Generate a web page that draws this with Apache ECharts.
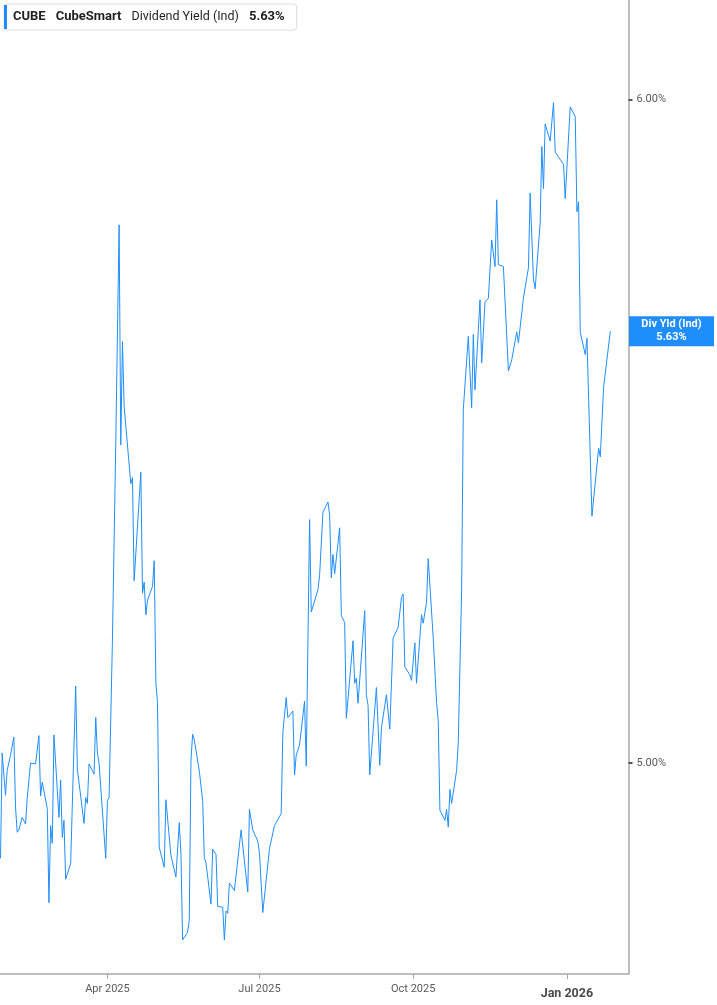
<!DOCTYPE html>
<html>
<head>
<meta charset="utf-8">
<script src="https://cdn.jsdelivr.net/npm/echarts@6/dist/echarts.min.js"></script>
<style>
html,body{margin:0;padding:0;background:#fff;overflow:hidden;width:100%;height:100%;}
#chart{width:100%;height:100%;}
</style>
</head>
<body>
<div id="chart"></div>
<script>
const ticker = 'CUBE';
const company = 'CubeSmart';
const metric = 'Dividend Yield (Ind)';
const badgeName = 'Div Yld (Ind)';
const lastValue = 5.63;
const yTickValues = [5, 6];
const xTickDates = ['2025-04-01', '2025-07-01', '2025-10-01', '2026-01-01'];
const monthNames = ['Jan','Feb','Mar','Apr','May','Jun','Jul','Aug','Sep','Oct','Nov','Dec'];

const dates = [
'2025-01-27','2025-01-28','2025-01-30','2025-01-31','2025-02-02','2025-02-04','2025-02-05','2025-02-06','2025-02-07','2025-02-09',
'2025-02-11','2025-02-12','2025-02-13','2025-02-14','2025-02-17','2025-02-19','2025-02-20','2025-02-21','2025-02-24','2025-02-25',
'2025-02-26','2025-02-27','2025-02-28','2025-03-03','2025-03-04','2025-03-05','2025-03-06','2025-03-07','2025-03-10','2025-03-13',
'2025-03-14','2025-03-18','2025-03-19','2025-03-20','2025-03-21','2025-03-24','2025-03-25','2025-03-26','2025-03-27','2025-03-31',
'2025-04-01','2025-04-02','2025-04-04','2025-04-06','2025-04-08','2025-04-09','2025-04-10','2025-04-11','2025-04-15','2025-04-16',
'2025-04-17','2025-04-21','2025-04-22','2025-04-23','2025-04-24','2025-04-25','2025-04-28','2025-04-29','2025-04-30','2025-05-01',
'2025-05-02','2025-05-05','2025-05-06','2025-05-09','2025-05-12','2025-05-14','2025-05-15','2025-05-16','2025-05-19','2025-05-20',
'2025-05-21','2025-05-22','2025-05-23','2025-05-26','2025-05-28','2025-05-29','2025-05-30','2025-06-02','2025-06-03','2025-06-05',
'2025-06-06','2025-06-09','2025-06-10','2025-06-11','2025-06-12','2025-06-13','2025-06-16','2025-06-20','2025-06-24','2025-06-25',
'2025-06-27','2025-06-30','2025-07-01','2025-07-03','2025-07-07','2025-07-08','2025-07-10','2025-07-11','2025-07-14','2025-07-15',
'2025-07-16','2025-07-17','2025-07-18','2025-07-21','2025-07-22','2025-07-23','2025-07-25','2025-07-28','2025-07-29','2025-07-31',
'2025-08-01','2025-08-05','2025-08-06','2025-08-07','2025-08-08','2025-08-11','2025-08-12','2025-08-13','2025-08-14','2025-08-15',
'2025-08-18','2025-08-19','2025-08-20','2025-08-21','2025-08-22','2025-08-26','2025-08-27','2025-08-28','2025-08-29','2025-09-02',
'2025-09-03','2025-09-04','2025-09-05','2025-09-09','2025-09-10','2025-09-11','2025-09-12','2025-09-15','2025-09-17','2025-09-19',
'2025-09-22','2025-09-23','2025-09-24','2025-09-25','2025-09-26','2025-09-29','2025-09-30','2025-10-02','2025-10-03','2025-10-06',
'2025-10-07','2025-10-09','2025-10-10','2025-10-13','2025-10-15','2025-10-16','2025-10-17','2025-10-20','2025-10-21','2025-10-22',
'2025-10-23','2025-10-24','2025-10-27','2025-10-28','2025-10-30','2025-10-31','2025-11-03','2025-11-05','2025-11-06','2025-11-07',
'2025-11-10','2025-11-11','2025-11-13','2025-11-15','2025-11-17','2025-11-19','2025-11-20','2025-11-21','2025-11-24','2025-11-27',
'2025-11-29','2025-12-02','2025-12-03','2025-12-06','2025-12-09','2025-12-10','2025-12-12','2025-12-13','2025-12-16','2025-12-17',
'2025-12-18','2025-12-19','2025-12-22','2025-12-24','2025-12-25','2025-12-30','2025-12-31','2026-01-03','2026-01-06','2026-01-07',
'2026-01-08','2026-01-09','2026-01-12','2026-01-13','2026-01-16','2026-01-20','2026-01-21','2026-01-23','2026-01-27'
];

const yields = [
4.871,5.014,4.956,4.990,5.011,5.036,4.940,4.906,4.909,4.926,
4.917,4.952,4.950,5.000,4.999,5.038,4.955,4.974,4.938,4.812,
4.915,4.891,5.039,4.926,4.977,4.899,4.922,4.843,4.864,5.107,
4.992,4.918,4.953,4.945,4.999,4.985,5.063,5.014,5.000,4.871,
4.949,4.953,5.172,5.460,5.797,5.457,5.614,5.515,5.399,5.408,
5.257,5.416,5.239,5.255,5.208,5.229,5.249,5.286,5.112,5.083,
4.886,4.859,4.950,4.875,4.846,4.919,4.878,4.763,4.773,4.789,
5.004,5.040,5.032,4.989,4.949,4.872,4.865,4.810,4.883,4.876,
4.807,4.806,4.763,4.801,4.798,4.838,4.828,4.909,4.826,4.937,
4.909,4.894,4.878,4.799,4.884,4.883,4.915,4.914,4.931,5.042,
5.042,5.091,5.063,5.072,4.984,5.011,5.025,5.086,4.996,5.346,
5.212,5.244,5.265,5.265,5.357,5.372,5.353,5.261,5.295,5.267,
5.334,5.207,5.205,5.197,5.062,5.171,5.111,5.118,5.083,5.214,
5.094,5.080,4.984,5.105,5.107,4.997,5.049,5.095,5.047,5.175,
5.190,5.189,5.233,5.238,5.134,5.123,5.115,5.168,5.111,5.208,
5.196,5.226,5.289,5.175,5.084,5.059,4.936,4.922,4.937,4.913,
4.964,4.945,4.990,5.029,5.244,5.510,5.622,5.513,5.625,5.540,
5.679,5.581,5.676,5.681,5.773,5.731,5.837,5.734,5.731,5.569,
5.586,5.629,5.612,5.682,5.729,5.848,5.710,5.696,5.800,5.923,
5.855,5.960,5.932,5.995,5.914,5.894,5.839,5.988,5.972,5.818,
5.834,5.628,5.594,5.619,5.351,5.452,5.439,5.545,5.63
];

function parseLocal(s) {
  const p = s.split('-').map(Number);
  return new Date(p[0], p[1] - 1, p[2]).getTime();
}
const seriesData = dates.map((d, i) => [parseLocal(d), yields[i]]);
const xTicks = xTickDates.map(parseLocal);
const xMin = new Date(2025, 0, 26, 17).getTime();
const xMax = new Date(2026, 1, 6, 21).getTime();

const chart = echarts.init(document.getElementById('chart'), null, {renderer: 'canvas'});
const FONT = 'Roboto, "Noto Sans", sans-serif';

chart.setOption({
  animation: false,
  backgroundColor: '#ffffff',
  textStyle: {fontFamily: FONT},
  grid: {left: 0, right: 85, top: 0, bottom: 31, containLabel: false},
  legend: {
    show: true,
    left: 4,
    top: 4,
    selectedMode: false,
    padding: [1, 12, 1, 0],
    borderColor: '#dcdcdc',
    borderWidth: 1,
    borderRadius: 3,
    backgroundColor: '#ffffff',
    icon: 'rect',
    itemWidth: 3,
    itemHeight: 24,
    data: [ticker],
    formatter: () => '{a|' + ticker + '}{b|' + company + '}{c|' + metric + '}{d|' + lastValue.toFixed(2) + '%}',
    textStyle: {
      rich: {
        a: {fontFamily: FONT, fontSize: 13, fontWeight: 'bold', color: '#1f1f1f', padding: [0, 10, 0, 1]},
        b: {fontFamily: FONT, fontSize: 13, fontWeight: 'bold', color: '#1f1f1f', padding: [0, 10, 0, 0]},
        c: {fontFamily: FONT, fontSize: 12.5, color: '#1f1f1f', padding: [0, 10, 0, 0]},
        d: {fontFamily: FONT, fontSize: 13, fontWeight: 'bold', color: '#1f1f1f'}
      }
    }
  },
  xAxis: [{
    type: 'time',
    min: xMin,
    max: xMax,
    axisLine: {show: true, lineStyle: {color: '#a8a8a8', width: 1.5}},
    axisTick: {show: false},
    axisLabel: {show: false},
    splitLine: {show: false}
  }, {
    type: 'value',
    position: 'bottom',
    offset: 0,
    min: xMin,
    max: xMax,
    axisLine: {show: false},
    axisTick: {show: true, customValues: xTicks, length: 5, lineStyle: {color: '#a8a8a8', width: 1}},
    splitLine: {show: false},
    axisLabel: {
      customValues: xTicks,
      margin: 10,
      fontSize: 11,
      color: '#5a5a5a',
      formatter: function (v) {
        const d = new Date(v);
        const txt = monthNames[d.getMonth()] + ' ' + d.getFullYear();
        return d.getMonth() === 0 ? '{j|' + txt + '}' : txt;
      },
      rich: {
        j: {fontFamily: FONT, fontSize: 12.5, fontWeight: 'bold', color: '#4a4a4a', padding: [3, 0, 0, 0]}
      }
    }
  }],
  yAxis: [{
    type: 'log',
    logBase: 10,
    position: 'right',
    min: 4.7186,
    max: 6.1664,
    axisLine: {show: true, lineStyle: {color: '#a8a8a8', width: 1.5}},
    axisTick: {show: true, customValues: yTickValues, length: 4, lineStyle: {color: '#555', width: 2}},
    splitLine: {show: false},
    axisLabel: {
      customValues: yTickValues,
      margin: 8,
      fontSize: 11,
      color: '#5a5a5a',
      formatter: v => Number(v).toFixed(2) + '%'
    }
  }, {
    type: 'log',
    logBase: 10,
    position: 'right',
    offset: 0,
    min: 4.7186,
    max: 6.1664,
    axisLine: {show: false},
    axisTick: {show: false},
    splitLine: {show: false},
    axisLabel: {
      customValues: [lastValue],
      margin: 43,
      align: 'center',
      width: 85,
      padding: [2, 0, 2, 0],
      backgroundColor: '#1f8efa',
      color: '#ffffff',
      fontWeight: 'bold',
      fontSize: 11,
      lineHeight: 13,
      formatter: v => badgeName + '\n' + Number(v).toFixed(2) + '%'
    }
  }],
  series: [{
    name: ticker,
    type: 'line',
    xAxisIndex: 0,
    yAxisIndex: 0,
    data: seriesData,
    showSymbol: false,
    symbol: 'none',
    color: '#1f8efa',
    lineStyle: {color: '#1f8efa', width: 1},
    emphasis: {disabled: true}
  }]
});
window.addEventListener('resize', () => chart.resize());
</script>
</body>
</html>
